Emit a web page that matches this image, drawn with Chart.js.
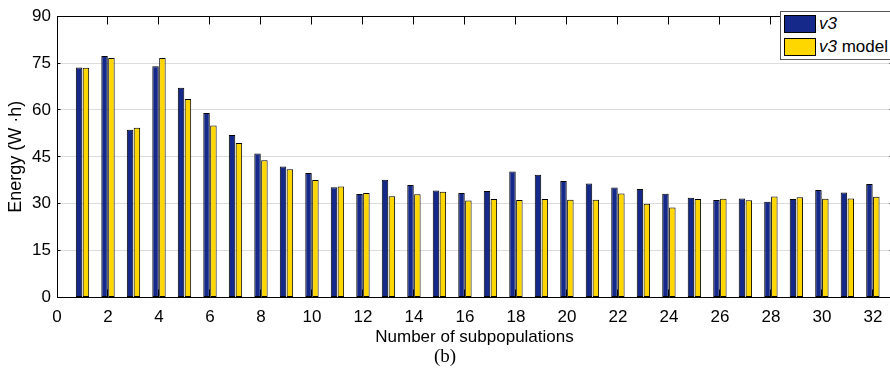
<!DOCTYPE html>
<html>
<head>
<meta charset="utf-8">
<script src="https://cdn.jsdelivr.net/npm/chart.js@4/dist/chart.umd.min.js"></script>
<style>
  html, body { margin: 0; padding: 0; background: #fff; overflow: hidden; }
  #wrap { position: relative; width: 890px; height: 390px; overflow: hidden; }
  #chart { position: absolute; left: 0; top: 0; }
  .legend {
    position: absolute; left: 780px; top: 11px; width: 111px; height: 47px;
    border: 1px solid #555; background: #fff;
    font-family: "Liberation Sans", Arial, sans-serif; font-size: 17px; color: #000;
  }
  .legend .row { position: absolute; left: 3px; height: 18px; display: flex; align-items: center; white-space: nowrap; }
  .legend .sw { width: 32px; height: 18px; box-sizing: border-box; border: 1px solid #000; margin-right: 3px; }
  .legend i { font-style: italic; }
  .caption {
    position: absolute; left: 0; width: 890px; top: 346px; text-align: center;
    font-family: "Liberation Serif", "DejaVu Serif", serif; font-size: 19px; line-height: 19px; color: #000;
  }
</style>
</head>
<body>
<div id="wrap">
  <canvas id="chart" width="910" height="390"></canvas>
  <div class="legend">
    <div class="row" style="top:3px"><span class="sw" style="background:#15298A"></span><i>v3</i></div>
    <div class="row" style="top:26px"><span class="sw" style="background:#FFD700"></span><span><i>v3</i> model</span></div>
  </div>
  <div class="caption">(b)</div>
</div>
<script>
// Energy per run for each number of subpopulations
const subpops = [1,2,3,4,5,6,7,8,9,10,11,12,13,14,15,16,17,18,19,20,21,22,23,24,25,26,27,28,29,30,31,32];
const v3 = [73.6,77.3,53.7,74.0,67.1,59.0,52.0,46.1,41.9,39.8,35.3,33.1,37.7,36.0,34.2,33.4,
            34.1,40.3,39.3,37.3,36.5,35.2,34.7,33.2,31.9,31.2,31.7,30.6,31.5,34.4,33.6,36.3];
const v3Model = [73.5,76.6,54.3,76.6,63.5,55.0,49.4,43.9,41.0,37.6,35.5,33.4,32.4,33.0,33.8,31.0,
                 31.5,31.2,31.5,31.3,31.3,33.3,30.0,28.8,31.5,31.6,31.1,32.3,32.1,31.6,31.7,32.2];
const xTicks = [0,2,4,6,8,10,12,14,16,18,20,22,24,26,28,30,32];
const yTicks = [0,15,30,45,60,75,90];

const FONT = '"Liberation Sans", Arial, sans-serif';

// Box frame with inward tick marks on all four sides
const framePlugin = {
  id: 'frame',
  afterDraw(chart) {
    const { ctx, chartArea: a, scales: { x, y } } = chart;
    const al = v => Math.floor(v) + 0.5;
    ctx.save();
    ctx.strokeStyle = '#000';
    ctx.lineWidth = 1;
    ctx.beginPath();
    ctx.moveTo(al(a.left), al(a.top)); ctx.lineTo(al(a.right), al(a.top));
    ctx.lineTo(al(a.right), al(a.bottom)); ctx.lineTo(al(a.left), al(a.bottom));
    ctx.closePath();
    x.ticks.forEach(t => {
      const px = al(x.getPixelForValue(t.value));
      ctx.moveTo(px, al(a.bottom)); ctx.lineTo(px, al(a.bottom) - 8);
      ctx.moveTo(px, al(a.top)); ctx.lineTo(px, al(a.top) + 8);
    });
    y.ticks.forEach(t => {
      const py = al(y.getPixelForValue(t.value));
      ctx.moveTo(al(a.left), py); ctx.lineTo(al(a.left) + 3, py);
      ctx.moveTo(al(a.right), py); ctx.lineTo(al(a.right) - 3, py);
    });
    ctx.stroke();
    ctx.restore();
  }
};

new Chart(document.getElementById('chart'), {
  type: 'bar',
  data: {
    datasets: [
      {
        label: 'v3',
        data: subpops.map((s, i) => ({ x: s, y: v3[i] })),
        backgroundColor: '#15298A',
        borderColor: '#000',
        borderWidth: 1,
        borderSkipped: false
      },
      {
        label: 'v3 model',
        data: subpops.map((s, i) => ({ x: s, y: v3Model[i] })),
        backgroundColor: '#FFD700',
        borderColor: '#000',
        borderWidth: 1,
        borderSkipped: false
      }
    ]
  },
  options: {
    responsive: false,
    animation: false,
    categoryPercentage: 0.54,
    barPercentage: 0.94,
    layout: { padding: { top: 10, right: 18, left: 0, bottom: 0 } },
    plugins: {
      legend: { display: false },
      tooltip: { enabled: false }
    },
    scales: {
      x: {
        type: 'linear',
        min: 0,
        max: 32.75,
        offset: false,
        afterBuildTicks: s => { s.ticks = xTicks.map(v => ({ value: v })); },
        afterFit: s => { s.height = 92.5; },
        grid: { display: false, offset: false, drawTicks: false },
        border: { display: true, color: '#000', width: 1 },
        ticks: {
          color: '#000', padding: 10, maxRotation: 0, autoSkip: false,
          font: { family: FONT, size: 17 }
        },
        title: {
          display: true, text: 'Number of subpopulations', color: '#000',
          font: { family: FONT, size: 17 }, padding: { top: 0, bottom: 42 }
        }
      },
      y: {
        min: 0,
        max: 90,
        afterBuildTicks: s => { s.ticks = yTicks.map(v => ({ value: v })); },
        afterFit: s => { s.width = 57; },
        grid: {
          drawTicks: false,
          lineWidth: 1,
          color: c => (c.tick && (c.tick.value === 0 || c.tick.value === 90)) ? 'rgba(0,0,0,0)' : '#dcdcdc'
        },
        border: { display: true, color: '#000', width: 1 },
        ticks: {
          color: '#000', padding: 6,
          font: { family: FONT, size: 17 }
        },
        title: {
          display: true, text: 'Energy (W ·h)', color: '#000',
          font: { family: FONT, size: 18 }, padding: { top: 5, bottom: 0 }
        }
      }
    }
  },
  plugins: [framePlugin]
});
</script>
</body>
</html>
